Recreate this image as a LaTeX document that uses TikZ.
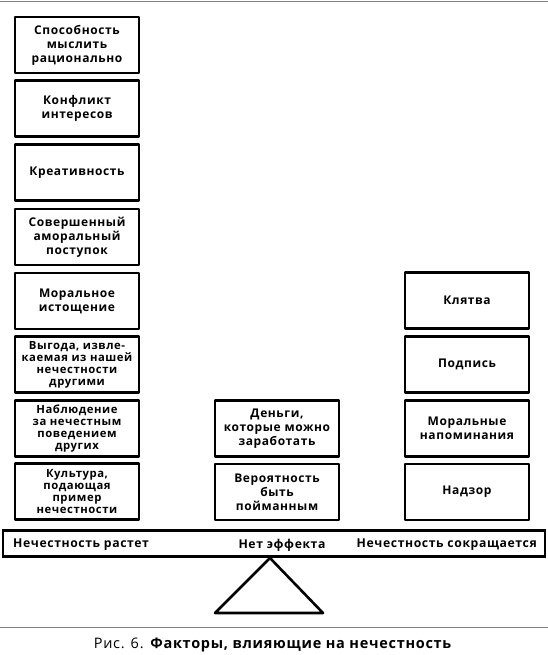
\documentclass[tikz,border=0pt]{standalone}
\usepackage{fontspec}
\setmainfont{Open Sans}[LetterSpace=5]
\begin{document}
\begin{tikzpicture}[x=1pt,y=-1pt,
  fbox/.style={draw=black, line width=2.6pt, minimum width=124pt, minimum height=56pt,
    align=center, font=\bfseries\fontsize{12}{14}\selectfont, inner sep=1pt, line join=round},
  fourl/.style={font=\bfseries\fontsize{11.3}{12}\selectfont},
  blabel/.style={font=\bfseries\fontsize{12.2}{14}\selectfont, inner sep=0pt}]
\useasboundingbox (0,0) rectangle (548,655);
\draw[gray, line width=1pt] (0,1.5) -- (548,1.5);
% left column
\node[fbox] (l1) at (77,45) {Способность\\мыслить\\рационально};
\node[fbox] (l2) at (77,108.5) {Конфликт\\интересов};
\node[fbox] (l3) at (77,172.5) {Креативность};
\node[fbox] (l4) at (77,237) {Совершенный\\аморальный\\поступок};
\node[fbox] (l5) at (77,301) {Моральное\\истощение};
\node[fbox, fourl] (l6) at (77,364.5) {Выгода, извле-\\каемая из нашей\\нечестности\\другими};
\node[fbox, fourl] (l7) at (77,428.5) {Наблюдение\\за нечестным\\поведением\\других};
\node[fbox, fourl] (l8) at (77,491.5) {Культура,\\подающая\\пример\\нечестности};
% middle column
\node[fbox] (m1) at (277,428.5) {Деньги,\\которые можно\\заработать};
\node[fbox] (m2) at (277,492) {Вероятность\\быть\\пойманным};
% right column
\node[fbox] (r1) at (467,300.5) {Клятва};
\node[fbox] (r2) at (467,364.5) {Подпись};
\node[fbox] (r3) at (467,428.5) {Моральные\\напоминания};
\node[fbox] (r4) at (467,492) {Надзор};
% beam
\node[draw=black, line width=2.6pt, minimum width=542pt, minimum height=26pt, inner sep=0pt] (beam) at (274,543.5) {};
\node[blabel, anchor=west] (bl) at (13,545) {Нечестность растет};
\node[blabel] (bc) at (282,545) {Нет эффекта};
\node[blabel, anchor=east] (br) at (537,545) {Нечестность сокращается};
% fulcrum
\coordinate (apex) at (270,558);
\coordinate (bL) at (215,613);
\coordinate (bR) at (323,613);
\draw[line width=2.6pt, line join=round] (apex) -- (bL) -- (bR) -- cycle;
% bottom rule and caption
\draw[gray, line width=1pt] (0,627) -- (548,627);
\node[font=\fontsize{14.5}{16}\selectfont, inner sep=0pt] (cap) at (273,645) {Рис. 6. \textbf{Факторы, влияющие на нечестность}};
\end{tikzpicture}
\end{document}
